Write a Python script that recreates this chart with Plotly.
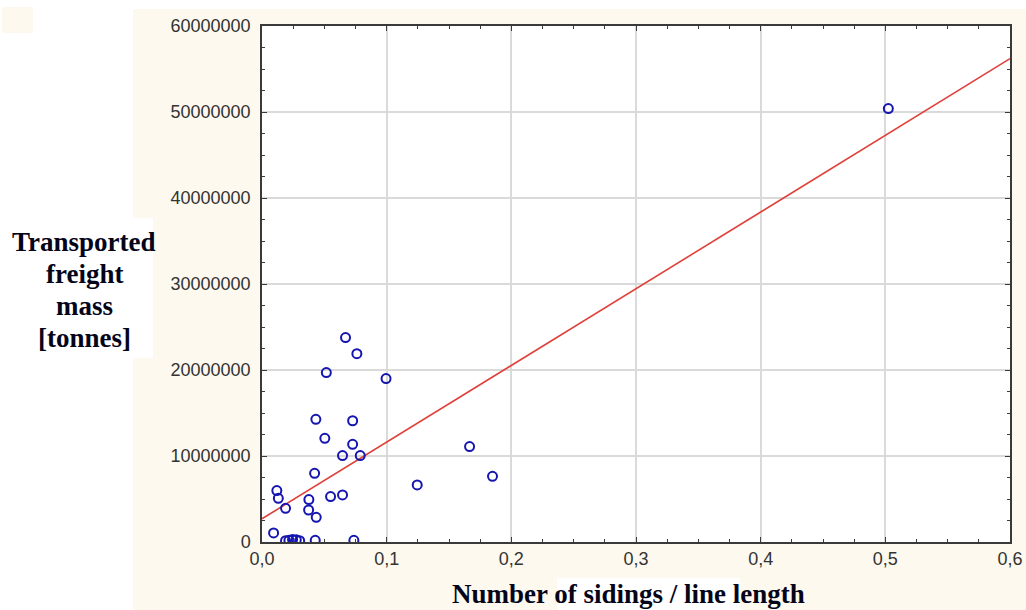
import plotly.graph_objects as go

# Data
ratio = [0.0670, 0.0761, 0.0516, 0.0995, 0.0432, 0.0727, 0.0504, 0.0727,
         0.0646, 0.0788, 0.0422, 0.0119, 0.0131, 0.0189, 0.0376, 0.0374,
         0.0435, 0.0550, 0.0646, 0.1245, 0.0093, 0.0189, 0.0216, 0.0245,
         0.0275, 0.0302, 0.0427, 0.0737, 0.1665, 0.1849, 0.5024]
freight = [23.77e6, 21.9e6, 19.7e6, 19.0e6, 14.27e6, 14.1e6, 12.06e6, 11.36e6,
           10.05e6, 10.05e6, 7.99e6, 5.98e6, 5.08e6, 3.92e6, 4.93e6, 3.72e6,
           2.87e6, 5.28e6, 5.47e6, 6.63e6, 1.05e6, 0.15e6, 0.2e6, 0.3e6,
           0.25e6, 0.15e6, 0.2e6, 0.2e6, 11.1e6, 7.64e6, 50.4e6]
fit_x = [0.0, 0.6]
fit_y = [2.7e6, 56.2e6]

x_ticks = [0.0, 0.1, 0.2, 0.3, 0.4, 0.5, 0.6]
x_ticktext = ["0,0", "0,1", "0,2", "0,3", "0,4", "0,5", "0,6"]
y_ticks = [0, 10e6, 20e6, 30e6, 40e6, 50e6, 60e6]
y_ticktext = ["0", "10000000", "20000000", "30000000", "40000000", "50000000", "60000000"]
y_title_lines = ["Transported", "freight", "mass", "[tonnes]"]
x_title = "Number of sidings / line length"

W, H = 1026, 610
L, R, T, B = 262, 1010, 26, 542

fig = go.Figure()
fig.add_trace(go.Scatter(x=fit_x, y=fit_y, mode="lines",
                         line=dict(color="#E0403A", width=1.6),
                         hoverinfo="skip", showlegend=False))
fig.add_trace(go.Scatter(x=ratio, y=freight, mode="markers",
                         marker=dict(symbol="circle-open", size=9,
                                     color="#1515B0", line=dict(width=2, color="#1515B0")),
                         showlegend=False))

axis_common = dict(showline=True, linecolor="#3a3a3a", linewidth=1.5, mirror="ticks",
                   ticks="inside", ticklen=5, tickcolor="#3a3a3a", tickwidth=1,
                   showgrid=True, gridcolor="#DADADA", gridwidth=1.5, zeroline=False,
                   automargin=False,
                   tickfont=dict(family="Liberation Sans, Arial, sans-serif", size=18, color="#333333"))

fig.update_xaxes(range=[0, 0.6], tickvals=x_ticks, ticktext=x_ticktext,
                 minor=dict(ticks="inside", dtick=0.025, ticklen=3, tickcolor="#3a3a3a", showgrid=False),
                 **axis_common)
fig.update_yaxes(range=[0, 60e6], tickvals=y_ticks, ticktext=y_ticktext,
                 minor=dict(ticks="inside", dtick=2.5e6, ticklen=3, tickcolor="#3a3a3a", showgrid=False),
                 ticklabelstandoff=6,
                 **axis_common)

def px_x(p):
    return (p - L) / (R - L)

def px_y(p):
    return (B - p) / (B - T)

cream = "#FDF9EE"
shapes = [
    # cream background
    dict(type="rect", xref="paper", yref="paper", x0=px_x(133), x1=px_x(W), y0=px_y(H), y1=px_y(9),
         fillcolor=cream, line=dict(width=0), layer="below"),
    dict(type="rect", xref="paper", yref="paper", x0=px_x(2), x1=px_x(33), y0=px_y(33), y1=px_y(7),
         fillcolor=cream, line=dict(width=0), layer="below"),
    # white plot area
    dict(type="rect", xref="paper", yref="paper", x0=0, x1=1, y0=0, y1=1,
         fillcolor="#FFFFFF", line=dict(width=0), layer="below"),
    # white boxes behind titles
    dict(type="rect", xref="paper", yref="paper", x0=px_x(0), x1=px_x(153), y0=px_y(358), y1=px_y(218),
         fillcolor="#FFFFFF", line=dict(width=0), layer="below"),
    dict(type="rect", xref="paper", yref="paper", x0=px_x(557), x1=px_x(740), y0=px_y(H), y1=px_y(578),
         fillcolor="#FFFFFF", line=dict(width=0), layer="below"),
]

title_font = dict(family="Liberation Serif, Times New Roman, serif", size=27, color="#05051a")
annotations = []
for line_text, yc in zip(y_title_lines, [242, 274, 306, 338]):
    annotations.append(dict(text="<b>" + line_text + "</b>", xref="paper", yref="paper",
                            x=px_x(84), y=px_y(yc), xanchor="center", yanchor="middle",
                            showarrow=False, font=title_font))
annotations.append(dict(text="<b>" + x_title + "</b>", xref="paper", yref="paper",
                        x=px_x(628), y=px_y(610), xanchor="center", yanchor="bottom",
                        showarrow=False, borderpad=0,
                        font=dict(family="Liberation Serif, Times New Roman, serif", size=27,
                                  color="#05051a")))

fig.update_layout(width=W, height=H, margin=dict(l=L, r=W - R, t=T, b=H - B, autoexpand=False),
                  paper_bgcolor="#FFFFFF", plot_bgcolor="#FFFFFF",
                  shapes=shapes, annotations=annotations, showlegend=False)

fig.write_html("out.html")
